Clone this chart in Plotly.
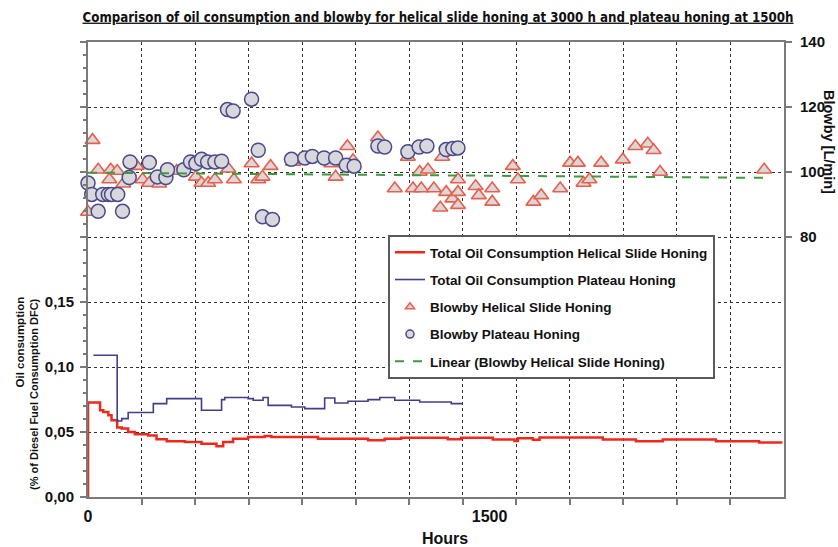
import plotly.graph_objects as go

# ---------------- data ----------------
# Total oil consumption, helical slide honing (step curve: hours, % DFC)
red_hours = [0, 0, 45, 57, 76, 88, 109, 126, 150, 175, 225, 256, 294, 362, 424, 480, 505, 542,
             598, 660, 685, 859, 1046, 1108, 1170, 1344, 1394, 1512, 1593, 1606, 1662, 1687,
             1923, 2047, 2147, 2346, 2507, 2594]
red_oil = [0.0, 0.0726, 0.0667, 0.0654, 0.0628, 0.059, 0.0534, 0.0526, 0.050, 0.0482, 0.0474,
           0.0444, 0.0428, 0.0423, 0.041, 0.039, 0.0423, 0.0449, 0.0462, 0.047, 0.0462, 0.0449,
           0.0436, 0.0449, 0.0456, 0.0444, 0.0456, 0.0442, 0.043, 0.0452, 0.0441, 0.0457,
           0.0442, 0.0428, 0.0442, 0.0428, 0.042, 0.042]

# Total oil consumption, plateau honing
blue_hours = [20, 109, 126, 150, 244, 294, 424, 499, 511, 598, 617, 654, 673, 760, 810, 884,
              922, 971, 1046, 1090, 1146, 1239, 1357, 1400]
blue_oil = [0.109, 0.0585, 0.0603, 0.065, 0.0718, 0.0757, 0.0667, 0.0749, 0.0765, 0.0757,
            0.0744, 0.0765, 0.0705, 0.0692, 0.068, 0.0762, 0.0723, 0.0736, 0.0749, 0.0765,
            0.0744, 0.0731, 0.0718, 0.0718]

# Blowby, helical slide honing [L/min]
tri_hours = [0, 17, 38, 80, 85, 109, 132, 182, 204, 229, 266, 331, 403, 424, 449, 474, 524, 545,
             611, 636, 652, 682, 766, 909, 925, 969, 990, 1083, 1146, 1195, 1214, 1239, 1245,
             1270, 1292, 1316, 1323, 1338, 1361, 1382, 1382, 1382, 1448, 1460, 1510, 1510, 1587,
             1606, 1664, 1693, 1764, 1801, 1830, 1851, 1873, 1917, 1998, 2045, 2091, 2113, 2137,
             2526]
tri_blowby = [87.7, 109.8, 100.7, 97.7, 100.7, 100.3, 96.4, 101.8, 97.7, 96.6, 96.4, 100.3, 98.5,
              96.6, 96.6, 97.7, 101.0, 97.7, 102.6, 97.7, 98.5, 101.8, 103.1, 102.6, 98.5, 107.9,
              103.6, 110.6, 94.9, 104.6, 94.9, 100.0, 94.9, 100.7, 94.9, 89.0, 104.6, 93.8, 91.8,
              97.7, 93.8, 89.8, 95.6, 92.8, 94.9, 90.8, 101.8, 97.7, 90.8, 92.8, 94.9, 102.8,
              102.8, 96.6, 97.7, 102.8, 103.8, 107.9, 108.7, 106.7, 100.0, 100.7]

# Blowby, plateau honing [L/min]
circ_hours = [0, 14, 38, 55, 76, 88, 111, 129, 154, 157, 229, 259, 291, 297, 358, 383, 403, 424,
              447, 474, 499, 521, 542, 611, 636, 652, 689, 760, 810, 838, 882, 925, 965, 994,
              1083, 1108, 1195, 1237, 1266, 1338, 1363, 1382]
circ_blowby = [96.6, 93.1, 87.9, 93.1, 93.1, 93.1, 93.1, 87.9, 98.3, 103.1, 102.9, 98.5, 98.3,
               100.7, 100.7, 103.1, 102.6, 103.9, 103.1, 103.1, 103.3, 119.2, 118.8, 122.4, 106.7,
               86.2, 85.4, 103.9, 104.3, 104.8, 104.3, 104.3, 102.1, 101.8, 108.0, 107.7, 106.2,
               107.7, 108.0, 106.9, 107.2, 107.4]

# Linear trendline of helical blowby (end points)
trend_hours = [0, 2530]
trend_blowby = [99.8, 98.2]

# axis ticks
x_tickvals = [0, 1500]
x_ticktext = ["0", "1500"]
x_grid_step = 200
y_tickvals = [0.0, 0.05, 0.10, 0.15, 0.20, 0.25, 0.30, 0.35]
y_ticktext = ["0,00", "0,05", "0,10", "0,15", "", "", "", ""]
y2_tickvals = [80, 100, 120, 140]
y2_ticktext = ["80", "100", "120", "140"]

title_text = ("Comparison of oil consumption and blowby for helical slide honing "
              "at 3000 h and plateau honing at 1500h")

# ---------------- styling ----------------
BOLD = "Liberation Sans, Arial, sans-serif"
NARROW = "DejaVu Sans Condensed, Liberation Sans Narrow, Arial Narrow, sans-serif"
RED = "#f0281c"
BLUE = "#3f3f8c"
TRI_EDGE = "#e8604a"
CIRC_EDGE = "#4a4a8c"
FILL = "#d8d8dc"
GREEN = "#3c9a3c"
AXIS = "#7a7a7a"
GRID = "#303030"

fig = go.Figure()

fig.add_trace(go.Scatter(x=red_hours, y=red_oil, mode="lines", line=dict(color=RED, width=2.5, shape="hv"),
                         name="Total Oil Consumption Helical Slide Honing", legendgroup="a", yaxis="y"))
fig.add_trace(go.Scatter(x=blue_hours, y=blue_oil, mode="lines", line=dict(color=BLUE, width=1.6, shape="hv"),
                         name="Total Oil Consumption Plateau Honing", legendgroup="b", yaxis="y"))

fig.add_trace(go.Scatter(x=tri_hours, y=tri_blowby, mode="markers", yaxis="y2", showlegend=False,
                         cliponaxis=False,
                         marker=dict(symbol="triangle-up", size=13, color=FILL,
                                     line=dict(color=TRI_EDGE, width=1.6))))
fig.add_trace(go.Scatter(x=circ_hours, y=circ_blowby, mode="markers", yaxis="y2", showlegend=False,
                         cliponaxis=False,
                         marker=dict(symbol="circle", size=14, color=FILL,
                                     line=dict(color=CIRC_EDGE, width=1.5))))
fig.add_trace(go.Scatter(x=trend_hours, y=trend_blowby, mode="lines", yaxis="y2",
                         line=dict(color=GREEN, width=2, dash="dash"),
                         name="Linear (Blowby Helical Slide Honing)", legendgroup="e"))

# legend-only entries for the markers (small symbols as in the reference)
fig.add_trace(go.Scatter(x=[None], y=[None], mode="markers", yaxis="y2",
                         name="Blowby Helical Slide Honing", legendgroup="c", legendrank=3,
                         marker=dict(symbol="triangle-up", size=8, color=FILL,
                                     line=dict(color=TRI_EDGE, width=1.5))))
fig.add_trace(go.Scatter(x=[None], y=[None], mode="markers", yaxis="y2",
                         name="Blowby Plateau Honing", legendgroup="d", legendrank=4,
                         marker=dict(symbol="circle", size=8, color=FILL,
                                     line=dict(color=CIRC_EDGE, width=1.5))))
fig.data[0].legendrank = 1
fig.data[1].legendrank = 2
fig.data[4].legendrank = 5

W, H = 838, 547
L, R, T, B = 88, 784, 42, 497

fig.update_layout(
    width=W, height=H,
    margin=dict(l=L, r=W - R, t=T, b=H - B),
    paper_bgcolor="white", plot_bgcolor="white",
    title=dict(text=title_text, x=438 / W, xref="container", xanchor="center",
               y=1 - 17 / H, yref="container", yanchor="middle",
               font=dict(family=NARROW, size=13.2, color="#111", weight="bold", lineposition="under")),
    xaxis=dict(range=[0, 2600], tickmode="array", tickvals=x_tickvals, ticktext=x_ticktext,
               ticks="", showgrid=False, zeroline=False,
               showline=True, linecolor=AXIS, linewidth=2, mirror=True,
               tickfont=dict(family=BOLD, size=16, color="#111", weight="bold"),
               ticklabelstandoff=4,
               minor=dict(tickmode="array",
                          tickvals=list(range(x_grid_step, 2600, x_grid_step)),
                          ticks="outside", ticklen=6, tickcolor=AXIS, tickwidth=1.5,
                          showgrid=True, gridcolor=GRID, griddash="dot", gridwidth=1.3)),
    yaxis=dict(range=[0, 0.35], tickmode="array", tickvals=y_tickvals, ticktext=y_ticktext,
               ticks="outside", ticklen=6, tickcolor=AXIS, tickwidth=1.5,
               showgrid=True, gridcolor=GRID, griddash="dot", gridwidth=1.3, zeroline=False,
               showline=True, linecolor=AXIS, linewidth=2,
               tickfont=dict(family=BOLD, size=15, color="#111", weight="bold"),
               ticklabelstandoff=3,
               minor=dict(dtick=0.01, tick0=0, ticks="outside", ticklen=3, tickcolor=AXIS,
                          showgrid=False)),
    yaxis2=dict(range=[0, 140], overlaying="y", side="right", anchor="x",
                tickmode="array", tickvals=y2_tickvals, ticktext=y2_ticktext,
                ticks="outside", ticklen=6, tickcolor=AXIS, tickwidth=1.5,
                showgrid=False, zeroline=False,
                showline=True, linecolor=AXIS, linewidth=2,
                tickfont=dict(family=BOLD, size=15, color="#111", weight="bold"),
                ticklabelstandoff=5),
    legend=dict(x=(388 - L) / (R - L), y=(B - 235) / (B - T), xanchor="left", yanchor="top",
                bgcolor="white", bordercolor="#5a5a5a", borderwidth=2,
                font=dict(family=BOLD, size=13.5, color="#111", weight="bold"),
                tracegroupgap=6.7, traceorder="grouped"),
    showlegend=True,
)

# axis titles
fig.add_annotation(text="Hours", xref="paper", yref="paper",
                   x=(445 - L) / (R - L), y=(B - 538) / (B - T), xanchor="center", yanchor="middle",
                   showarrow=False, font=dict(family=BOLD, size=16, color="#111", weight="bold"))
fig.add_annotation(text="Oil consumption", xref="paper", yref="paper", textangle=-90,
                   x=(19 - L) / (R - L), y=(B - 295) / (B - T), xanchor="center", yanchor="top",
                   showarrow=False, font=dict(family=BOLD, size=11.5, color="#111", weight="bold"))
fig.add_annotation(text="(% of Diesel Fuel Consumption DFC)", xref="paper", yref="paper", textangle=-90,
                   x=(34 - L) / (R - L), y=(B - 296) / (B - T), xanchor="center", yanchor="top",
                   showarrow=False, font=dict(family=BOLD, size=11, color="#111", weight="bold"))
fig.add_annotation(text="Blowby [L/min]", xref="paper", yref="paper", textangle=90,
                   x=(829 - L) / (R - L), y=(B - 142) / (B - T), xanchor="center", yanchor="middle",
                   showarrow=False, font=dict(family=BOLD, size=14.5, color="#111", weight="bold"))

fig.write_html("out.html")
